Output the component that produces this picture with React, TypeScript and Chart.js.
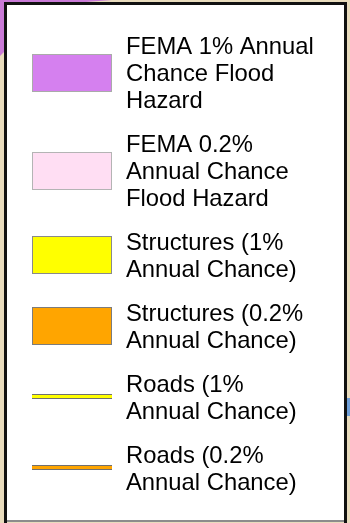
import React, { useEffect, useRef } from "react";
import { Chart, registerables } from "chart.js";

Chart.register(...registerables);

// Legend entries (text lines per entry)
const legendLabels: string[][] = [
  ["FEMA 1% Annual", "Chance Flood", "Hazard"],
  ["FEMA 0.2%", "Annual Chance", "Flood Hazard"],
  ["Structures (1%", "Annual Chance)"],
  ["Structures (0.2%", "Annual Chance)"],
  ["Roads (1%", "Annual Chance)"],
  ["Roads (0.2%", "Annual Chance)"],
];
// Symbol type per entry
const symbolKinds: string[] = ["area", "area", "area", "area", "line", "line"];
// Fill colour per entry
const fillColors: string[] = ["#d580ef", "#ffdef3", "#ffff00", "#ffa500", "#ffff00", "#ffa500"];
// Outline colour per entry
const outlineColors: string[] = ["#aaaaaa", "#b4b4b4", "#8a8a8a", "#7c7c7c", "#707070", "#707070"];

const FONT = '23.8px "Liberation Sans", Arial, sans-serif';
const LINE_H = 27;
const GAP = 17;

const mapLegendPlugin = {
  id: "mapLegend",
  beforeDraw(chart: any) {
    const ctx: CanvasRenderingContext2D = chart.ctx;
    const W = chart.width;
    const H = chart.height;
    ctx.save();
    // map background around the legend
    ctx.fillStyle = "#e9dcbd";
    ctx.fillRect(0, 0, W, H);
    ctx.fillStyle = "#c97ad6";
    ctx.beginPath();
    ctx.moveTo(0, 0);
    ctx.lineTo(112, 0);
    ctx.lineTo(60, 4);
    ctx.lineTo(4, 52);
    ctx.lineTo(0, 56);
    ctx.closePath();
    ctx.fill();
    ctx.fillStyle = "#6f9fd8";
    ctx.fillRect(347, 398, 3, 18);
    // legend panel
    ctx.fillStyle = "#ffffff";
    ctx.fillRect(5, 3, 341, 518);
    ctx.fillStyle = "#111111";
    ctx.fillRect(4, 2, 343, 3); // top
    ctx.fillRect(4, 2, 3, 521); // left
    ctx.fillRect(344, 2, 3, 521); // right
    ctx.fillStyle = "#8c8c8c";
    ctx.fillRect(7, 520, 337, 2); // bottom
    ctx.restore();
  },
  afterDraw(chart: any) {
    const ctx: CanvasRenderingContext2D = chart.ctx;
    ctx.save();
    ctx.font = FONT;
    ctx.textBaseline = "alphabetic";
    ctx.textAlign = "left";
    let top = 72.5 - (legendLabels[0].length * LINE_H) / 2;
    legendLabels.forEach((lines, i) => {
      const h = lines.length * LINE_H;
      const c = top + h / 2;
      // symbol
      const sx = 32;
      const sw = 80;
      if (symbolKinds[i] === "area") {
        const sh = 38;
        const sy = Math.round(c - sh / 2);
        ctx.fillStyle = fillColors[i];
        ctx.fillRect(sx, sy, sw, sh);
        ctx.strokeStyle = outlineColors[i];
        ctx.lineWidth = 1;
        ctx.strokeRect(sx + 0.5, sy + 0.5, sw - 1, sh - 1);
      } else {
        const cy = Math.round(c);
        ctx.fillStyle = outlineColors[i];
        ctx.fillRect(sx, cy - 3, sw, 5);
        ctx.fillStyle = fillColors[i];
        ctx.fillRect(sx, cy - 2, sw, 3);
      }
      // text
      ctx.fillStyle = "#000000";
      lines.forEach((t, j) => {
        const capCenter = c - ((lines.length - 1) * LINE_H) / 2 + j * LINE_H;
        ctx.fillText(t, 126, capCenter + 8.5);
      });
      top += h + GAP;
    });
    ctx.restore();
  },
};

export default function App() {
  const ref = useRef<HTMLCanvasElement | null>(null);
  useEffect(() => {
    document.body.style.margin = "0";
    if (!ref.current) return;
    const chart = new Chart(ref.current, {
      type: "scatter",
      data: {
        labels: legendLabels.map((l) => l.join(" ")),
        datasets: [],
      },
      options: {
        animation: false,
        responsive: false,
        devicePixelRatio: 1,
        layout: { padding: 0 },
        scales: {
          x: { display: false },
          y: { display: false },
        },
        plugins: {
          legend: { display: false },
          tooltip: { enabled: false },
        },
      },
      plugins: [mapLegendPlugin],
    });
    return () => chart.destroy();
  }, []);
  return (
    <div style={{ width: 350, height: 523 }}>
      <canvas ref={ref} width={350} height={523} style={{ display: "block" }} />
    </div>
  );
}
